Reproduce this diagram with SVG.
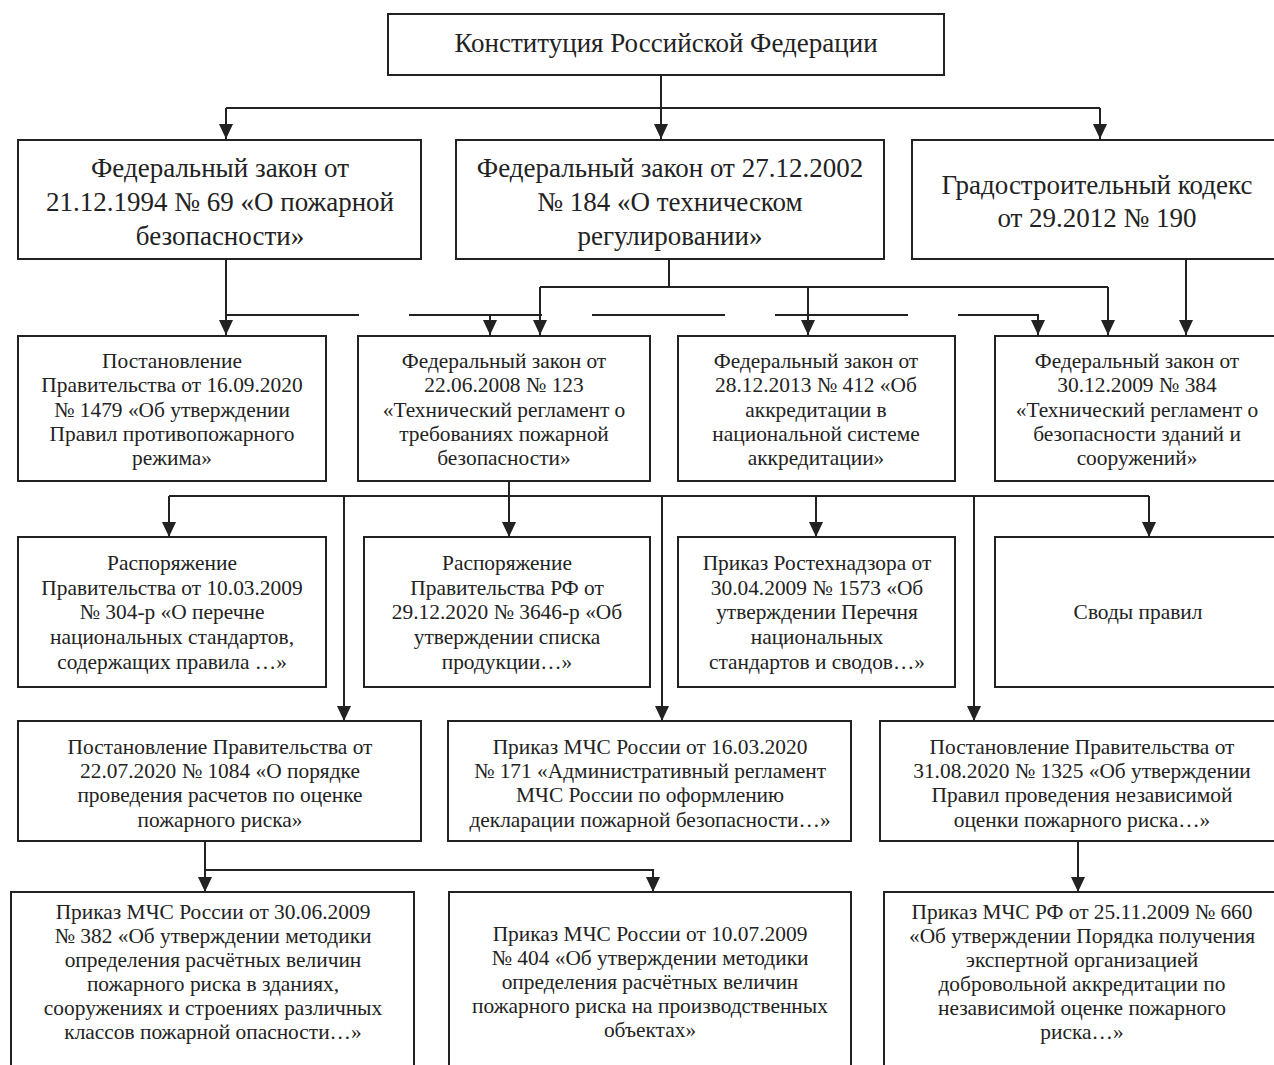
<svg xmlns="http://www.w3.org/2000/svg" width="1274" height="1065" viewBox="0 0 1274 1065">
<style>
.box{fill:#fff;stroke:#222;stroke-width:2}
.t{font-family:"Liberation Serif","Times New Roman",serif;fill:#222;text-anchor:middle}
.big{font-size:27px}
.sm{font-size:21.4px}
.ln{fill:none;stroke:#222;stroke-width:2}
.dash{stroke-dasharray:133 50}
</style>
<defs>
<marker id="arr" markerUnits="userSpaceOnUse" viewBox="0 0 15 14" refX="15" refY="7" markerWidth="15" markerHeight="14" orient="auto">
<path d="M0,0 L15,7 L0,14 Z" fill="#222"/>
</marker>
</defs>
<rect width="1274" height="1065" fill="#fff"/>

<g id="connectors">
<path class="ln" d="M661,75 V139" marker-end="url(#arr)"/>
<path class="ln" d="M226,108 H1100"/>
<path class="ln" d="M226,108 V139" marker-end="url(#arr)"/>
<path class="ln" d="M1100,108 V139" marker-end="url(#arr)"/>

<path class="ln" d="M226,259 V335" marker-end="url(#arr)"/>
<path class="ln dash" d="M226,315 H1038 V335" marker-end="url(#arr)"/>
<path class="ln" d="M490,315 V335" marker-end="url(#arr)"/>
<path class="ln" d="M669,259 V287"/>
<path class="ln" d="M540,287 H1108"/>
<path class="ln" d="M540,287 V335" marker-end="url(#arr)"/>
<path class="ln" d="M808,287 V335" marker-end="url(#arr)"/>
<path class="ln" d="M1108,287 V335" marker-end="url(#arr)"/>
<path class="ln" d="M1186,259 V335" marker-end="url(#arr)"/>

<path class="ln" d="M509,481 V496"/>
<path class="ln" d="M169,496 H1149"/>
<path class="ln" d="M169,496 V537" marker-end="url(#arr)"/>
<path class="ln" d="M509,496 V537" marker-end="url(#arr)"/>
<path class="ln" d="M816,496 V537" marker-end="url(#arr)"/>
<path class="ln" d="M1149,496 V537" marker-end="url(#arr)"/>
<path class="ln" d="M344,496 V721" marker-end="url(#arr)"/>
<path class="ln" d="M662,496 V721" marker-end="url(#arr)"/>
<path class="ln" d="M974,496 V721" marker-end="url(#arr)"/>

<path class="ln" d="M205,841 V892" marker-end="url(#arr)"/>
<path class="ln" d="M205,870 H653 V892" marker-end="url(#arr)"/>
<path class="ln" d="M1078,841 V892" marker-end="url(#arr)"/>
</g>

<g id="n-constitution">
<rect class="box" x="388" y="14" width="556" height="61"/>
<text class="t big" x="666" y="52">Конституция Российской Федерации</text>
</g>

<g id="n-fz69">
<rect class="box" x="18" y="140" width="403" height="119"/>
<text class="t big"><tspan x="220" y="177">Федеральный закон от</tspan><tspan x="220" y="211">21.12.1994 № 69 «О пожарной</tspan><tspan x="220" y="245">безопасности»</tspan></text>
</g>

<g id="n-fz184">
<rect class="box" x="456" y="140" width="428" height="119"/>
<text class="t big"><tspan x="670" y="177">Федеральный закон от 27.12.2002</tspan><tspan x="670" y="211">№ 184 «О техническом</tspan><tspan x="670" y="245">регулировании»</tspan></text>
</g>

<g id="n-grk">
<rect class="box" x="912" y="140" width="380" height="119"/>
<text class="t big"><tspan x="1097" y="194">Градостроительный кодекс</tspan><tspan x="1097" y="227">от 29.2012 № 190</tspan></text>
</g>

<g id="n-pp1479">
<rect class="box" x="18" y="336" width="308" height="145"/>
<text class="t sm"><tspan x="172" y="368">Постановление</tspan><tspan x="172" y="392">Правительства от 16.09.2020</tspan><tspan x="172" y="417">№ 1479 «Об утверждении</tspan><tspan x="172" y="441">Правил противопожарного</tspan><tspan x="172" y="465">режима»</tspan></text>
</g>

<g id="n-fz123">
<rect class="box" x="358" y="336" width="292" height="145"/>
<text class="t sm"><tspan x="504" y="368">Федеральный закон от</tspan><tspan x="504" y="392">22.06.2008 № 123</tspan><tspan x="504" y="417">«Технический регламент о</tspan><tspan x="504" y="441">требованиях пожарной</tspan><tspan x="504" y="465">безопасности»</tspan></text>
</g>

<g id="n-fz412">
<rect class="box" x="678" y="336" width="277" height="145"/>
<text class="t sm"><tspan x="816" y="368">Федеральный закон от</tspan><tspan x="816" y="392">28.12.2013 № 412 «Об</tspan><tspan x="816" y="417">аккредитации в</tspan><tspan x="816" y="441">национальной системе</tspan><tspan x="816" y="465">аккредитации»</tspan></text>
</g>

<g id="n-fz384">
<rect class="box" x="995" y="336" width="300" height="145"/>
<text class="t sm"><tspan x="1137" y="368">Федеральный закон от</tspan><tspan x="1137" y="392">30.12.2009 № 384</tspan><tspan x="1137" y="417">«Технический регламент о</tspan><tspan x="1137" y="441">безопасности зданий и</tspan><tspan x="1137" y="465">сооружений»</tspan></text>
</g>

<g id="n-r304">
<rect class="box" x="18" y="537" width="308" height="150"/>
<text class="t sm"><tspan x="172" y="570">Распоряжение</tspan><tspan x="172" y="595">Правительства от 10.03.2009</tspan><tspan x="172" y="619">№ 304-р «О перечне</tspan><tspan x="172" y="644">национальных стандартов,</tspan><tspan x="172" y="669">содержащих правила …»</tspan></text>
</g>

<g id="n-r3646">
<rect class="box" x="364" y="537" width="286" height="150"/>
<text class="t sm"><tspan x="507" y="570">Распоряжение</tspan><tspan x="507" y="595">Правительства РФ от</tspan><tspan x="507" y="619">29.12.2020 № 3646-р «Об</tspan><tspan x="507" y="644">утверждении списка</tspan><tspan x="507" y="669">продукции…»</tspan></text>
</g>

<g id="n-rtn1573">
<rect class="box" x="678" y="537" width="277" height="150"/>
<text class="t sm"><tspan x="817" y="570">Приказ Ростехнадзора от</tspan><tspan x="817" y="595">30.04.2009 № 1573 «Об</tspan><tspan x="817" y="619">утверждении Перечня</tspan><tspan x="817" y="644">национальных</tspan><tspan x="817" y="669">стандартов и сводов…»</tspan></text>
</g>

<g id="n-sp">
<rect class="box" x="995" y="537" width="300" height="150"/>
<text class="t sm" x="1138" y="619">Своды правил</text>
</g>

<g id="n-pp1084">
<rect class="box" x="18" y="721" width="403" height="120"/>
<text class="t sm"><tspan x="220" y="754">Постановление Правительства от</tspan><tspan x="220" y="778">22.07.2020 № 1084 «О порядке</tspan><tspan x="220" y="802">проведения расчетов по оценке</tspan><tspan x="220" y="827">пожарного риска»</tspan></text>
</g>

<g id="n-mchs171">
<rect class="box" x="448" y="721" width="403" height="120"/>
<text class="t sm"><tspan x="650" y="754">Приказ МЧС России от 16.03.2020</tspan><tspan x="650" y="778">№ 171 «Административный регламент</tspan><tspan x="650" y="802">МЧС России по оформлению</tspan><tspan x="650" y="827">декларации пожарной безопасности…»</tspan></text>
</g>

<g id="n-pp1325">
<rect class="box" x="880" y="721" width="410" height="120"/>
<text class="t sm"><tspan x="1082" y="754">Постановление Правительства от</tspan><tspan x="1082" y="778">31.08.2020 № 1325 «Об утверждении</tspan><tspan x="1082" y="802">Правил проведения независимой</tspan><tspan x="1082" y="827">оценки пожарного риска…»</tspan></text>
</g>

<g id="n-mchs382">
<rect class="box" x="11" y="892" width="403" height="190"/>
<text class="t sm"><tspan x="213" y="919">Приказ МЧС России от 30.06.2009</tspan><tspan x="213" y="943">№ 382 «Об утверждении методики</tspan><tspan x="213" y="967">определения расчётных величин</tspan><tspan x="213" y="991">пожарного риска в зданиях,</tspan><tspan x="213" y="1015">сооружениях и строениях различных</tspan><tspan x="213" y="1039">классов пожарной опасности…»</tspan></text>
</g>

<g id="n-mchs404">
<rect class="box" x="449" y="892" width="402" height="190"/>
<text class="t sm"><tspan x="650" y="941">Приказ МЧС России от 10.07.2009</tspan><tspan x="650" y="965">№ 404 «Об утверждении методики</tspan><tspan x="650" y="989">определения расчётных величин</tspan><tspan x="650" y="1013">пожарного риска на производственных</tspan><tspan x="650" y="1037">объектах»</tspan></text>
</g>

<g id="n-mchs660">
<rect class="box" x="884" y="892" width="410" height="190"/>
<text class="t sm"><tspan x="1082" y="919">Приказ МЧС РФ от 25.11.2009 № 660</tspan><tspan x="1082" y="943">«Об утверждении Порядка получения</tspan><tspan x="1082" y="967">экспертной организацией</tspan><tspan x="1082" y="991">добровольной аккредитации по</tspan><tspan x="1082" y="1015">независимой оценке пожарного</tspan><tspan x="1082" y="1039">риска…»</tspan></text>
</g>
</svg>
